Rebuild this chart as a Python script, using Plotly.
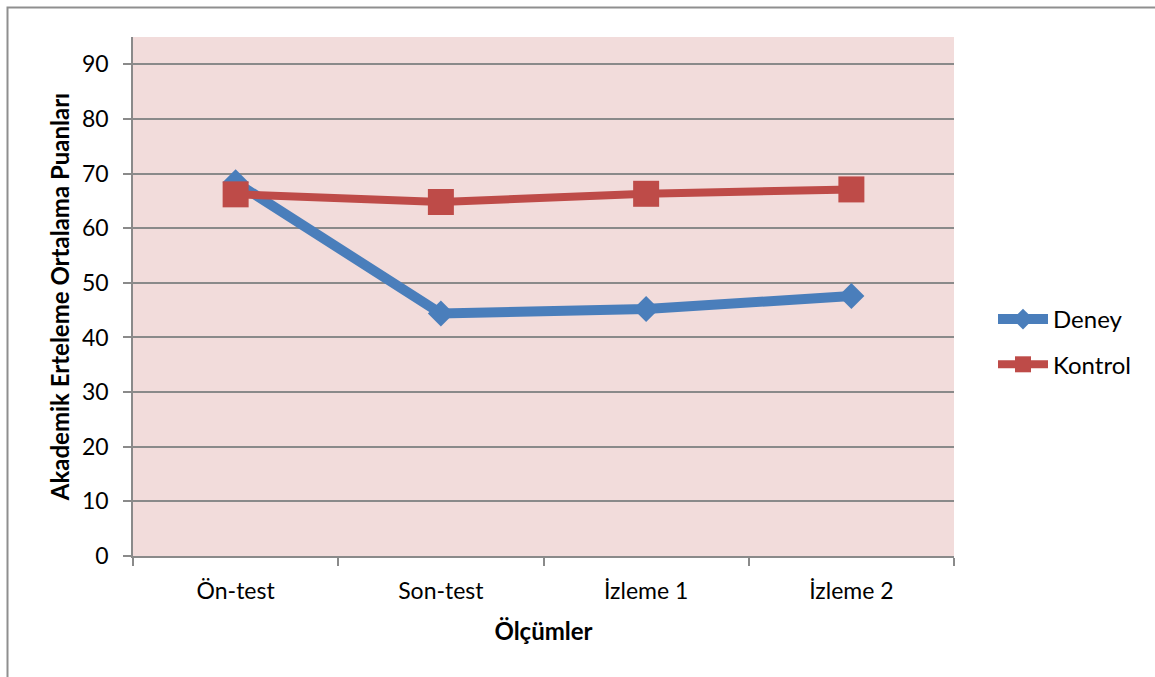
import plotly.graph_objects as go

# Measurement stages (x categories)
olcumler = ["Ön-test", "Son-test", "İzleme 1", "İzleme 2"]

# Mean academic procrastination scores per group
deney = [68.4, 44.4, 45.2, 47.6]
kontrol = [66.2, 64.8, 66.3, 67.1]

y_ticks = [0, 10, 20, 30, 40, 50, 60, 70, 80, 90]

FONT = "Lato"
GRID = "#8a8a8a"

W, H = 1155, 677
L, R, T, B = 133, 954, 37, 556  # plot area in pixels

fig = go.Figure()

fig.add_trace(go.Scatter(
    x=olcumler, y=deney, name="Deney", mode="lines+markers",
    line=dict(color="#4A7EBB", width=10),
    marker=dict(symbol="diamond", size=20, color="#4A7EBB"),
    legendgroup="a",
))
fig.add_trace(go.Scatter(
    x=olcumler, y=kontrol, name="Kontrol", mode="lines+markers",
    line=dict(color="#BE4B48", width=8),
    marker=dict(symbol="square", size=26, color="#BE4B48"),
    legendgroup="b",
))

# outer chart-area frame (only top and left edges fall inside the page)
fig.add_shape(
    type="rect", xref="paper", yref="paper",
    x0=(7.5 - L) / (R - L), x1=2.0,
    y0=-1.0, y1=(B - 7.5) / (B - T),
    line=dict(color="#8f8f8f", width=2), fillcolor="rgba(0,0,0,0)",
    layer="below",
)

fig.update_layout(
    width=W, height=H,
    margin=dict(l=L, r=W - R, t=T, b=H - B, autoexpand=False),
    paper_bgcolor="white",
    plot_bgcolor="#F2DCDB",
    font=dict(family=FONT, size=23, color="black"),
    showlegend=True,
    legend=dict(
        x=(993 - L) / (R - L), y=(B - 297) / (B - T),
        xanchor="left", yanchor="top",
        font=dict(family=FONT, size=24, color="black"),
        tracegroupgap=11, itemsizing="trace", itemwidth=50,
        bgcolor="rgba(0,0,0,0)",
    ),
    xaxis=dict(
        type="category", tickson="boundaries",
        range=[-0.5, 3.5],
        showgrid=False,
        ticks="outside", ticklen=8, tickcolor=GRID, tickwidth=1.5,
        showline=True, linecolor=GRID, linewidth=1.5,
        ticklabelstandoff=14,
        title=dict(text="<b>Ölçümler</b>", font=dict(family=FONT, size=24), standoff=20),
        fixedrange=True,
    ),
    yaxis=dict(
        range=[0, 95],
        tickvals=y_ticks,
        showgrid=True, gridcolor=GRID, gridwidth=1.5,
        zeroline=False,
        ticks="outside", ticklen=8, tickcolor=GRID, tickwidth=1.5,
        showline=True, linecolor=GRID, linewidth=1.5,
        ticklabelstandoff=10,
        title=dict(text="<b>Akademik Erteleme Ortalama Puanları</b>",
                   font=dict(family=FONT, size=24), standoff=6),
        fixedrange=True,
    ),
)

fig.write_html("out.html")
